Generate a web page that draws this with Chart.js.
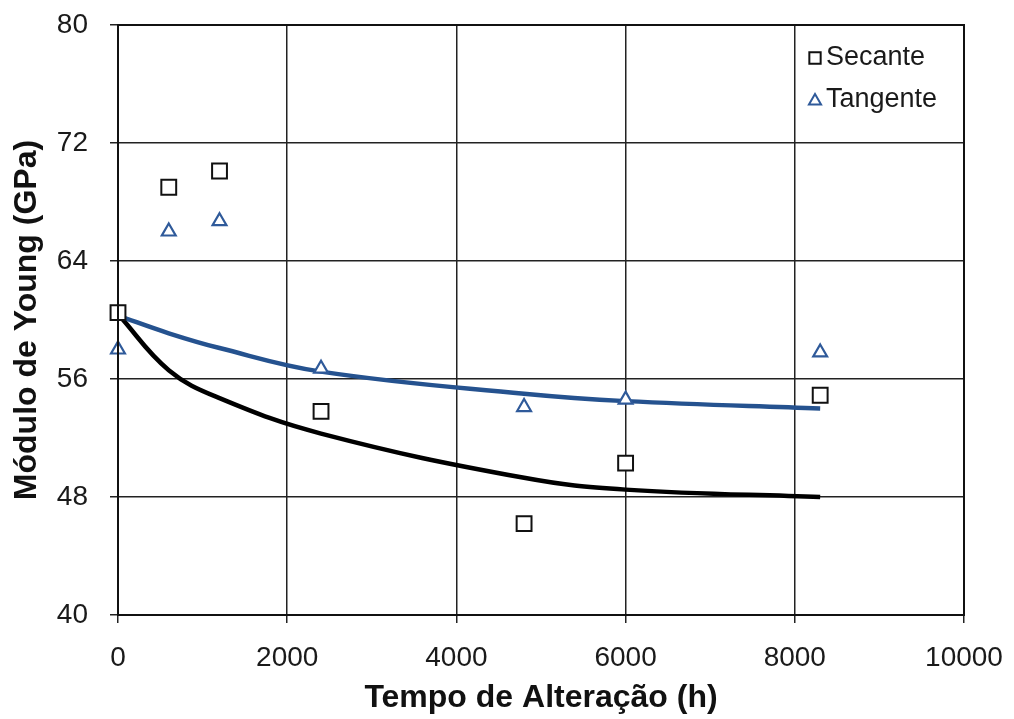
<!DOCTYPE html>
<html>
<head>
<meta charset="utf-8">
<script src="https://cdn.jsdelivr.net/npm/chart.js@4/dist/chart.umd.min.js"></script>
<style>
  html, body { margin: 0; padding: 0; background: #fff; }
  #wrap { width: 1014px; height: 719px; }
</style>
</head>
<body>
<div id="wrap"><canvas id="myChart" width="1014" height="719"></canvas></div>
<script>
'use strict';

// measured points
let tempos = [0, 600, 1200, 2400, 4800, 6000, 8300];
let secante = [60.5, 69.0, 70.1, 53.8, 46.2, 50.3, 54.9];
let tangente = [58.0, 66.0, 66.7, 56.7, 54.1, 54.6, 57.8];

// fitted curves
let curvaX = [0, 600, 1200, 2400, 4800, 6000, 8300];
let curvaSecante = [60.4, 56.6, 54.7, 52.3, 49.3, 48.5, 48.0];
let curvaTangente = [60.3, 59.1, 58.1, 56.5, 55.0, 54.5, 54.0];

let yTicks = [40, 48, 56, 64, 72, 80];
let xTicks = [0, 2000, 4000, 6000, 8000, 10000];

let azul = '#25528f';
let azulMarca = '#2f5a9a';
let fonte = '"Liberation Sans", Arial, sans-serif';

function pares(xs, ys){
    let out = [];
    for (let i = 0; i < xs.length; i++){
        out.push({x: xs[i], y: ys[i]});
    }
    return out;
}

// frame around the plot + legend inside it
let extras = {
    id: 'extras',
    afterDatasetsDraw(chart){
        let ctx = chart.ctx;
        let a = chart.chartArea;
        ctx.save();
        ctx.strokeStyle = '#111';
        ctx.lineWidth = 2;
        ctx.strokeRect(a.left, a.top, a.right - a.left, a.bottom - a.top);

        ctx.font = '27px ' + fonte;
        ctx.textBaseline = 'middle';
        ctx.fillStyle = '#fff';
        ctx.strokeStyle = '#111';
        Chart.helpers.drawPoint(ctx, {pointStyle: 'rect', radius: 8, borderWidth: 2.2}, 815, 58);
        ctx.fillStyle = '#fff';
        ctx.strokeStyle = azulMarca;
        Chart.helpers.drawPoint(ctx, {pointStyle: 'triangle', radius: 7, borderWidth: 2.2}, 815, 101);
        ctx.fillStyle = '#1a1a1a';
        ctx.fillText('Secante', 826, 58);
        ctx.fillText('Tangente', 826, 100);
        ctx.restore();
    }
};

let ctx = document.getElementById('myChart').getContext('2d');
let myChart = new Chart(ctx, {
    type: 'scatter',
    data: {
        datasets: [
        {
            label: 'Secante',
            data: pares(tempos, secante),
            pointStyle: 'rect',
            pointRadius: 10.5,
            pointBorderWidth: 2,
            pointBackgroundColor: '#fff',
            pointBorderColor: '#111',
            clip: false,
            order: 0
        },
        {
            label: 'Tangente',
            data: pares(tempos, tangente),
            pointStyle: 'triangle',
            pointRadius: 8,
            pointBorderWidth: 2.2,
            pointBackgroundColor: '#fff',
            pointBorderColor: azulMarca,
            clip: false,
            order: 0
        },
        {
            label: 'curva secante',
            data: pares(curvaX, curvaSecante),
            showLine: true,
            borderColor: '#000',
            borderWidth: 4.5,
            pointRadius: 0,
            tension: 0.4,
            order: 2
        },
        {
            label: 'curva tangente',
            data: pares(curvaX, curvaTangente),
            showLine: true,
            borderColor: azul,
            borderWidth: 4.5,
            pointRadius: 0,
            tension: 0.4,
            order: 1
        }
        ]
    },
    options: {
        responsive: false,
        animation: false,
        layout: { autoPadding: false, padding: { left: 0, right: 50, top: 25, bottom: 0 } },
        plugins: {
            legend: { display: false },
            tooltip: { enabled: false }
        },
        scales: {
            x: {
                type: 'linear',
                min: 0,
                max: 10000,
                afterBuildTicks: function(s){ s.ticks = xTicks.map(v => ({value: v})); },
                afterFit: function(s){
                    s.height = 104;
                    s.paddingLeft = 0;
                    s.paddingRight = 0;
                },
                grid: { color: '#222', lineWidth: 1.5, tickLength: 8, tickColor: '#222' },
                border: { color: '#111', width: 2 },
                ticks: {
                    color: '#1a1a1a',
                    padding: 18,
                    maxRotation: 0,
                    callback: v => String(v),
                    font: { family: fonte, size: 28 }
                },
                title: {
                    display: true,
                    text: 'Tempo de Alteração (h)',
                    color: '#111',
                    padding: { top: 0, bottom: 2 },
                    font: { family: fonte, size: 32, weight: 'bold' }
                }
            },
            y: {
                min: 40,
                max: 80,
                afterBuildTicks: function(s){ s.ticks = yTicks.map(v => ({value: v})); },
                afterFit: function(s){
                    s.width = 118;
                    s.paddingTop = 0;
                    s.paddingBottom = 0;
                },
                grid: { color: '#222', lineWidth: 1.5, tickLength: 8, tickColor: '#222' },
                border: { color: '#111', width: 2 },
                ticks: {
                    color: '#1a1a1a',
                    padding: 22,
                    callback: v => String(v),
                    font: { family: fonte, size: 28 }
                },
                title: {
                    display: true,
                    text: 'Módulo de Young (GPa)',
                    color: '#111',
                    padding: { top: 8, bottom: 0 },
                    font: { family: fonte, size: 32, weight: 'bold' }
                }
            }
        }
    },
    plugins: [extras]
});
</script>
</body>
</html>
